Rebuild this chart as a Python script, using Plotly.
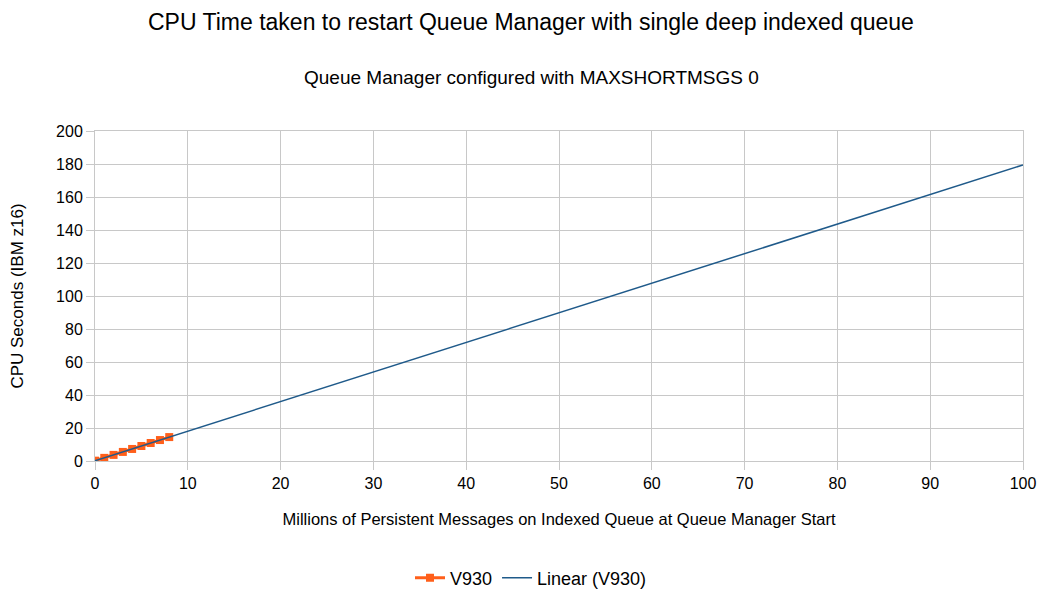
import numpy as np
import plotly.graph_objects as go

messages_millions = [0, 1, 2, 3, 4, 5, 6, 7, 8]
cpu_seconds = [0.2, 1.9, 3.7, 5.5, 7.3, 9.1, 10.9, 12.7, 14.5]
trend_x = [0, 100]

slope, intercept = np.polyfit(messages_millions, cpu_seconds, 1)
trend_y = [slope * x + intercept for x in trend_x]

font = "Liberation Sans, Arial, sans-serif"
grid = "#c8c8c8"

FW, FH = 1039, 590
# plot area in page pixels: left 95, right 1023, top 131, bottom 461
L, R, T, B = 95, FW - 1023, 131, FH - 461
H = FH - T - B
W = FW - L - R

def py(pix):
    return (461 - pix) / H

def px(pix):
    return (pix - 95) / W

fig = go.Figure()
fig.add_trace(go.Scatter(
    x=messages_millions, y=cpu_seconds, name="V930", mode="lines+markers",
    line=dict(color="#ff5f1a", width=3),
    marker=dict(symbol="square", size=8, color="#ff5f1a"),
))
fig.add_trace(go.Scatter(
    x=trend_x, y=trend_y, name="Linear (V930)", mode="lines",
    line=dict(color="#1f5a8a", width=1.5),
))

fig.update_layout(
    width=FW, height=FH,
    paper_bgcolor="white", plot_bgcolor="white",
    margin=dict(l=L, r=R, t=T, b=B, autoexpand=False),
    font=dict(family=font, color="black", size=16),
    showlegend=True,
    legend=dict(orientation="h", x=px(531), xanchor="center", y=py(578), yanchor="middle",
                font=dict(size=18)),
    annotations=[
        dict(text="CPU Time taken to restart Queue Manager with single deep indexed queue",
             x=px(531), y=py(22), xref="paper", yref="paper", showarrow=False,
             yanchor="middle", font=dict(size=23)),
        dict(text="Queue Manager configured with MAXSHORTMSGS 0",
             x=px(531), y=py(77), xref="paper", yref="paper", showarrow=False,
             yanchor="middle", font=dict(size=19)),
    ],
)

fig.update_xaxes(
    range=[0, 100], dtick=10, showgrid=True, gridcolor=grid, gridwidth=1,
    showline=True, linecolor=grid, mirror=True, zeroline=False, automargin=False,
    ticks="outside", ticklen=8, tickcolor=grid, tickfont=dict(size=16),
    title=dict(text="Millions of Persistent Messages on Indexed Queue at Queue Manager Start",
               font=dict(size=16.5), standoff=22),
)
fig.update_yaxes(
    range=[0, 200], dtick=20, showgrid=True, gridcolor=grid, gridwidth=1,
    showline=True, linecolor=grid, mirror=True, zeroline=False, automargin=False,
    ticks="outside", ticklen=8, tickcolor=grid, tickfont=dict(size=16),
    title=dict(text="CPU Seconds (IBM z16)", font=dict(size=17), standoff=28),
)

fig.write_html(
    "out.html",
    config={"displayModeBar": False},
    post_script="document.body.style.margin='0';document.body.style.overflow='hidden';",
)
